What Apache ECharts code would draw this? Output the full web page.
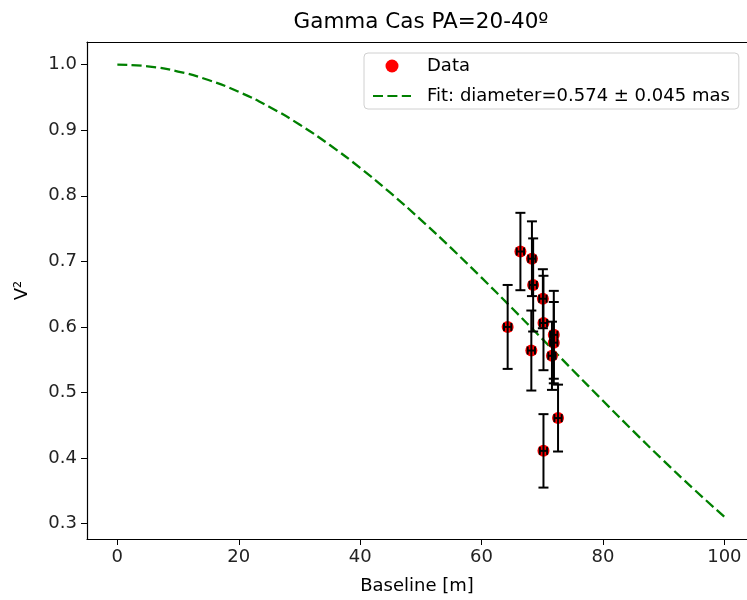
<!DOCTYPE html>
<html>
<head>
<meta charset="utf-8">
<script src="https://cdn.jsdelivr.net/npm/echarts@6/dist/echarts.min.js"></script>
<style>
  html, body { margin: 0; padding: 0; background: #fff; }
  #box { width: 747px; height: 600px; }
</style>
</head>
<body>
<div id="box"></div>
<script>
// measured points (baseline in m, squared visibility)
const baseline = [66.4, 68.3, 68.5, 70.1, 64.3, 70.2, 71.9, 71.9, 68.2, 71.6, 72.6, 70.2];
const v2 = [0.715, 0.704, 0.664, 0.643, 0.600, 0.606, 0.588, 0.576, 0.564, 0.556, 0.461, 0.411];
const v2Err = [0.059, 0.057, 0.071, 0.045, 0.064, 0.072, 0.067, 0.062, 0.061, 0.052, 0.051, 0.056];
const baselineErr = [0.6, 0.6, 0.6, 0.6, 0.6, 0.6, 0.6, 0.6, 0.6, 0.6, 0.6, 0.6];

// fitted curve
const fitBaseline = [0, 5, 10, 15, 20, 25, 30, 35, 40, 45, 50, 55, 60, 65, 70, 75, 80, 85, 90, 95, 100];
const fitV2 = [1.0000, 0.9974, 0.9895, 0.9765, 0.9585, 0.9358, 0.9087, 0.8774, 0.8425, 0.8043, 0.7634,
  0.7201, 0.6751, 0.6288, 0.5817, 0.5344, 0.4874, 0.4411, 0.3959, 0.3523, 0.3105];

const xTicks = [0, 20, 40, 60, 80, 100];
const yTicks = [0.3, 0.4, 0.5, 0.6, 0.7, 0.8, 0.9, 1.0];

const fitName = 'Fit: diameter=0.574 \u00b1 0.045 mas';
const font = 'DejaVu Sans';

const myChart = echarts.init(document.getElementById('box'));

const scatterData = baseline.map((b, i) => [b, v2[i]]);
const errData = baseline.map((b, i) => [b, v2[i], v2Err[i], baselineErr[i]]);
const fitData = fitBaseline.map((b, i) => [b, fitV2[i]]);

// error bars drawn on top of the red dots
function renderErr(params, api) {
  const x = api.value(0), y = api.value(1), ey = api.value(2), ex = api.value(3);
  const c = api.coord([x, y]);
  const top = api.coord([x, y + ey]);
  const bot = api.coord([x, y - ey]);
  const l = api.coord([x - ex, y]);
  const r = api.coord([x + ex, y]);
  const cap = 5;
  const style = { stroke: '#000', lineWidth: 2 };
  const seg = (x1, y1, x2, y2) => ({ type: 'line', shape: { x1, y1, x2, y2 }, style });
  return {
    type: 'group',
    children: [
      seg(top[0], top[1], bot[0], bot[1]),
      seg(top[0] - cap, top[1], top[0] + cap, top[1]),
      seg(bot[0] - cap, bot[1], bot[0] + cap, bot[1]),
      seg(l[0], c[1], r[0], c[1]),
      seg(l[0], c[1] - 4, l[0], c[1] + 4),
      seg(r[0], c[1] - 4, r[0], c[1] + 4)
    ]
  };
}

const axisLine = { show: true, onZero: false, lineStyle: { color: '#000', width: 1.2 } };

const option = {
  backgroundColor: '#fff',
  animation: false,
  textStyle: { fontFamily: font },
  graphic: [{
    type: 'text',
    x: 421, y: 22,
    style: {
      text: 'Gamma Cas PA=20-40\u00ba', font: '21.5px "DejaVu Sans"', fill: '#000',
      align: 'center', verticalAlign: 'middle'
    }
  }],
  legend: {
    orient: 'vertical',
    left: 364, top: 53,
    padding: [4, 9, 4, 8],
    itemGap: 12,
    itemWidth: 38, itemHeight: 13,
    backgroundColor: '#fff',
    borderColor: '#d0d0d0', borderWidth: 1, borderRadius: 4,
    textStyle: { fontFamily: font, fontSize: 18, color: '#000', padding: [0, 0, 0, 11] },
    data: [
      { name: 'Data', icon: 'circle' },
      { name: fitName, itemStyle: { opacity: 0 } }
    ]
  },
  grid: { left: 87, right: 0, top: 42, bottom: 60 },
  xAxis: [{
    type: 'value', min: -5, max: 103.73,
    name: 'Baseline [m]', nameLocation: 'middle', nameGap: 38,
    nameTextStyle: { fontFamily: font, fontSize: 18, color: '#000' },
    axisLine: axisLine,
    axisTick: { show: true, length: 6, lineStyle: { color: '#000' }, customValues: xTicks },
    axisLabel: { fontFamily: font, fontSize: 18, color: '#222', margin: 9, customValues: xTicks },
    splitLine: { show: false }
  }, {
    type: 'value', position: 'top', min: -5, max: 103.73,
    axisLine: axisLine, axisTick: { show: false }, axisLabel: { show: false }, splitLine: { show: false }
  }],
  yAxis: [{
    type: 'value', min: 0.2766, max: 1.0345,
    name: 'V\u00b2', nameLocation: 'middle', nameGap: 56,
    nameTextStyle: { fontFamily: font, fontSize: 18, color: '#000' },
    axisLine: axisLine,
    axisTick: { show: true, length: 6, lineStyle: { color: '#000' }, customValues: yTicks },
    axisLabel: { fontFamily: font, fontSize: 18, color: '#222', margin: 10,
      customValues: yTicks, formatter: v => v.toFixed(1) },
    splitLine: { show: false }
  }],
  series: [
    {
      name: fitName,
      type: 'line',
      data: fitData,
      smooth: true,
      symbol: 'none',
      lineStyle: { color: '#008000', width: 2.3, type: [10, 4.4] },
      itemStyle: { color: '#008000' },
      z: 2
    },
    {
      name: 'Data',
      type: 'scatter',
      data: scatterData,
      symbolSize: 12,
      itemStyle: { color: '#ff0000', opacity: 1 },
      z: 3
    },
    {
      type: 'custom',
      data: errData,
      renderItem: renderErr,
      encode: { x: 0, y: 1 },
      z: 4
    }
  ]
};

myChart.setOption(option);
</script>
</body>
</html>
